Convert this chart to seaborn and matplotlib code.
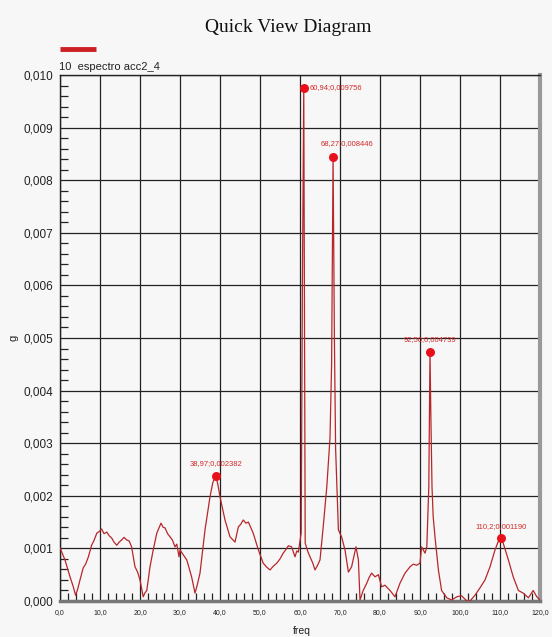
import matplotlib
matplotlib.use("Agg")
import matplotlib.pyplot as plt
import seaborn as sns
import pandas as pd
from matplotlib.ticker import MultipleLocator, FuncFormatter
from matplotlib.lines import Line2D

# ---------------- data ----------------
freq = [0.0, 1.25, 2.5, 3.2, 3.9, 4.4, 5.0, 5.8, 6.4, 7.1, 7.9, 8.5, 9.2, 9.8, 10.4,
        11.0, 11.7, 12.3, 12.9, 13.5, 14.2, 14.8, 15.4, 16.0, 16.7, 17.3, 17.9, 18.75,
        19.4, 20.0, 20.8, 21.2, 21.7, 22.5, 23.3, 24.2, 24.7, 25.25, 25.8, 26.25, 26.9,
        27.5, 28.1, 28.75, 29.2, 29.75, 30.0, 30.8, 31.7, 32.9, 33.75, 34.3, 35.0, 36.25,
        37.5, 38.2, 38.97, 39.5, 40.0, 41.25, 42.5, 43.75, 44.6, 45.2, 45.8, 46.5, 47.1,
        48.3, 49.6, 50.8, 51.6, 52.5, 53.3, 54.2, 55.0, 55.8, 56.5, 57.1, 57.9, 58.75,
        59.2, 59.6, 60.3, 60.6, 60.94, 61.1, 61.3, 62.0, 62.5, 63.2, 63.75, 64.4, 65.0,
        65.8, 66.7, 67.5, 67.9, 68.27, 68.6, 68.9, 69.6, 70.4, 71.25, 72.1, 72.9, 74.0,
        74.6, 75.0, 75.8, 76.7, 77.3, 77.9, 78.75, 79.6, 80.4, 81.25, 82.5, 83.75, 85.0,
        86.25, 87.5, 88.3, 89.2, 90.0, 90.4, 91.25, 91.7, 92.2, 92.5, 92.7, 93.0, 93.3,
        93.75, 94.6, 95.4, 96.7, 97.9, 99.2, 100.4, 101.7, 102.5, 103.75, 105.0, 106.25,
        107.5, 108.75, 109.5, 110.2, 110.8, 112.1, 113.3, 114.6, 115.8, 117.1, 118.3,
        119.2, 120.0]
amp = [0.00101, 0.00078, 0.00046, 0.00030, 0.00011, 0.00022, 0.00040, 0.00063, 0.00070,
       0.00084, 0.00106, 0.00115, 0.00129, 0.00132, 0.00137, 0.00128, 0.00131, 0.00124,
       0.00120, 0.00112, 0.00106, 0.00112, 0.00116, 0.00121, 0.00116, 0.00114, 0.00103,
       0.00065, 0.00055, 0.00040, 0.00008, 0.00015, 0.00020, 0.00065, 0.00097, 0.00129,
       0.00138, 0.00148, 0.00140, 0.00139, 0.00128, 0.00122, 0.00116, 0.00103, 0.00108,
       0.00084, 0.00097, 0.00088, 0.00078, 0.00046, 0.00015, 0.00030, 0.00053, 0.00135,
       0.00198, 0.00225, 0.002382, 0.00220, 0.00198, 0.00154, 0.00122, 0.00112, 0.00141,
       0.00146, 0.00154, 0.00148, 0.00150, 0.00129, 0.00097, 0.00072, 0.00065, 0.00059,
       0.00066, 0.00072, 0.00080, 0.00091, 0.00098, 0.00105, 0.00103, 0.00084, 0.00095,
       0.00093, 0.00130, 0.00600, 0.009756, 0.00600, 0.00110, 0.00093, 0.00084, 0.00072,
       0.00059, 0.00068, 0.00078, 0.00141, 0.00217, 0.00310, 0.00450, 0.008446, 0.00500,
       0.00290, 0.00135, 0.00122, 0.00097, 0.00055, 0.00065, 0.00103, 0.00078, 0.00002,
       0.00020, 0.00034, 0.00045, 0.00053, 0.00046, 0.00050, 0.00027, 0.00030, 0.00020,
       0.00008, 0.00034, 0.00053, 0.00065, 0.00070, 0.00068, 0.00072, 0.00103, 0.00091,
       0.00103, 0.00217, 0.004739, 0.00360, 0.00217, 0.00160, 0.00122, 0.00059, 0.00020,
       0.00006, 0.00002, 0.00008, 0.00010, 0.00000, 0.00000, 0.00011, 0.00025, 0.00040,
       0.00065, 0.00097, 0.00112, 0.00119, 0.00110, 0.00078, 0.00046, 0.00020, 0.00015,
       0.00006, 0.00020, 0.00008, 0.00002]

peak_freq = [38.97, 60.94, 68.27, 92.50, 110.2]
peak_amp = [0.002382, 0.009756, 0.008446, 0.004739, 0.001190]
peak_labels = ["38,97;0,002382", "60,94;0,009756", "68,27;0,008446",
               "92,50;0,004739", "110,2;0,001190"]

series_name = "10  espectro acc2_4"
title = "Quick View Diagram"
x_label = "freq"
y_label = "g"

# ---------------- layout / style ----------------
label_offsets = [(0, 6, "center", "bottom"), (4, 0, "left", "center"),
                 (10, 7, "center", "bottom"), (0, 6, "center", "bottom"),
                 (0, 6, "center", "bottom")]

sns.set_theme(style="white")
plt.rcParams["font.family"] = ["Liberation Sans", "DejaVu Sans"]

bg = "#f7f7f7"
fig = plt.figure(figsize=(5.52, 6.37), dpi=100, facecolor=bg)
ax = fig.add_axes([60 / 552, 1 - 601 / 637, 480 / 552, 526 / 637])
ax.set_facecolor(bg)

df = pd.DataFrame({"freq": freq, "amp": amp})
sns.lineplot(data=df, x="freq", y="amp", sort=False, estimator=None,
             color="#b8262a", linewidth=0.9, ax=ax, zorder=3)
pk = pd.DataFrame({"freq": peak_freq, "amp": peak_amp})
sns.scatterplot(data=pk, x="freq", y="amp", color="#e8101a", s=42,
                edgecolor="#e8101a", linewidth=0, ax=ax, zorder=4)
for (fx, fy, lab), (dx, dy, ha, va) in zip(zip(peak_freq, peak_amp, peak_labels), label_offsets):
    ax.annotate(lab, (fx, fy), xytext=(dx, dy), textcoords="offset points",
                ha=ha, va=va, fontsize=5.5, color="#d42a2a", zorder=5)

ax.set_xlim(0, 120)
ax.set_ylim(0, 0.010)
ax.xaxis.set_major_locator(MultipleLocator(10))
ax.xaxis.set_minor_locator(MultipleLocator(2))
ax.yaxis.set_major_locator(MultipleLocator(0.001))
ax.yaxis.set_minor_locator(MultipleLocator(0.0002))
ax.xaxis.set_major_formatter(FuncFormatter(lambda v, p: f"{v:.1f}".replace(".", ",")))
ax.yaxis.set_major_formatter(FuncFormatter(lambda v, p: f"{v:.3f}".replace(".", ",")))
ax.grid(True, which="major", color="#222222", linewidth=0.9)
ax.tick_params(axis="both", which="major", direction="out", length=4, width=0.9,
               color="#222222")
ax.tick_params(axis="both", which="minor", direction="in", length=6, width=0.9,
               color="#222222")
ax.tick_params(axis="y", which="major", labelsize=8.5, pad=1, labelcolor="#222222")
ax.tick_params(axis="x", which="major", labelsize=5, pad=2, labelcolor="#222222")
ax.tick_params(axis="x", which="minor", bottom=True)
ax.tick_params(axis="y", which="minor", left=True)

for side in ["left", "top"]:
    ax.spines[side].set_color("#222222")
    ax.spines[side].set_linewidth(1)
ax.spines["bottom"].set_color("#777777")
ax.spines["bottom"].set_linewidth(2.5)
ax.spines["right"].set_color("#999999")
ax.spines["right"].set_linewidth(3)

ax.set_xlabel(x_label, fontsize=7.5, color="#222222")
ax.set_ylabel(y_label, fontsize=8, color="#222222")
ax.xaxis.set_label_coords(0.504, -0.048)
ax.yaxis.set_label_coords(-0.086, 0.5)

fig.text(288 / 552, 1 - 27 / 637, title, ha="center", va="center",
         fontsize=14, family="Liberation Serif", color="#111111")

# legend entry drawn like the reference (swatch above the name)
fig.add_artist(Line2D([60 / 552, 96 / 552], [1 - 49 / 637, 1 - 49 / 637],
                      transform=fig.transFigure, color="#cc1f26", linewidth=3.5,
                      solid_capstyle="butt"))
fig.text(59 / 552, 1 - 67 / 637, series_name, ha="left", va="center",
         fontsize=8, color="#222222")

fig.savefig("out.png", dpi=100, facecolor=bg)
